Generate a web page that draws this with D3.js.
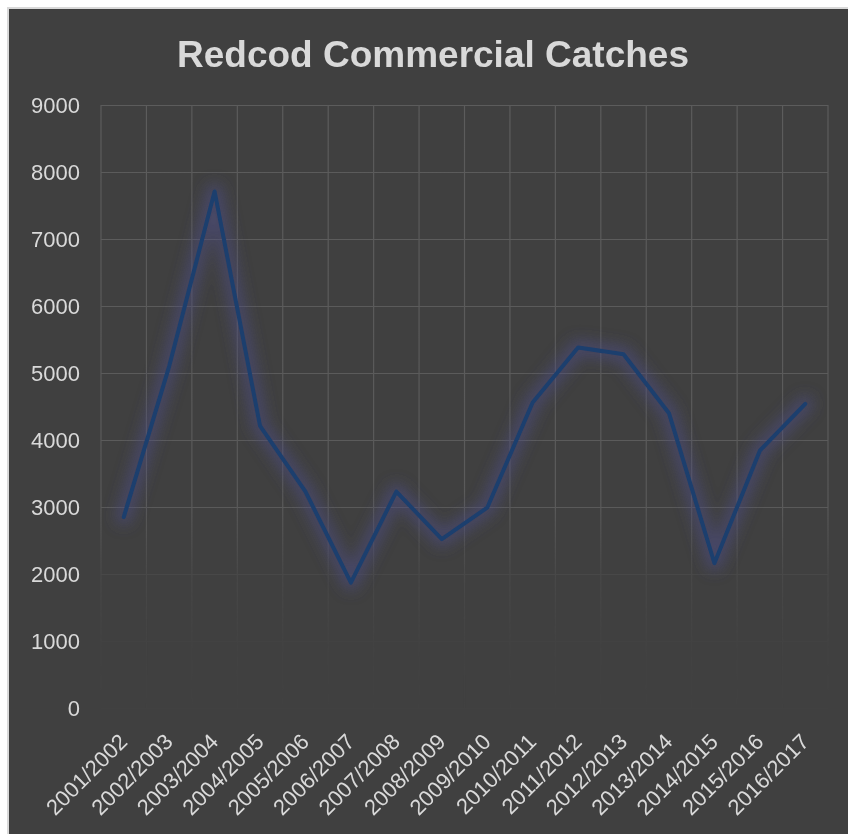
<!DOCTYPE html>
<html><head><meta charset="utf-8">
<script src="https://cdn.jsdelivr.net/npm/d3@7"></script>
<style>html,body{margin:0;padding:0;background:#fff;}svg{display:block;}</style>
</head><body>
<svg id="chart" width="848" height="834"></svg>
<script>
const title = "Redcod Commercial Catches";
const categories = ["2001/2002","2002/2003","2003/2004","2004/2005","2005/2006","2006/2007","2007/2008","2008/2009","2009/2010","2010/2011","2011/2012","2012/2013","2013/2014","2014/2015","2015/2016","2016/2017"];
const catches = [2850,5100,7710,4210,3230,1870,3230,2520,2990,4560,5380,5280,4400,2160,3840,4540];
const yTicks = [0,1000,2000,3000,4000,5000,6000,7000,8000,9000];

const svg = d3.select("#chart");
const W = 848, H = 834;
const plot = {left:101, right:828, top:105, bottom:708};
const font = "'Liberation Sans', Arial, sans-serif";

// outer frame
svg.append("rect").attr("x",0).attr("y",0).attr("width",W).attr("height",H).attr("fill","#ffffff");
svg.append("rect").attr("x",7).attr("y",7).attr("width",W-7).attr("height",H-7).attr("fill","#d9d9d9");
svg.append("rect").attr("x",9).attr("y",9).attr("width",W-9).attr("height",H-9).attr("fill","#404040");

const defs = svg.append("defs");
const grad = defs.append("linearGradient").attr("id","fade").attr("gradientUnits","userSpaceOnUse")
  .attr("x1",0).attr("y1",plot.top).attr("x2",0).attr("y2",plot.bottom);
grad.append("stop").attr("offset","0").attr("stop-color","#fff").attr("stop-opacity",1);
grad.append("stop").attr("offset","0.66").attr("stop-color","#fff").attr("stop-opacity",0.95);
grad.append("stop").attr("offset","0.78").attr("stop-color","#fff").attr("stop-opacity",0.3);
grad.append("stop").attr("offset","0.9").attr("stop-color","#fff").attr("stop-opacity",0.08);
grad.append("stop").attr("offset","1").attr("stop-color","#fff").attr("stop-opacity",0.03);
defs.append("mask").attr("id","gridMask").attr("maskUnits","userSpaceOnUse")
  .attr("x",0).attr("y",0).attr("width",W).attr("height",H)
  .append("rect").attr("x",0).attr("y",0).attr("width",W).attr("height",H).attr("fill","url(#fade)");

const glow = defs.append("filter").attr("id","glow").attr("x","-20%").attr("y","-20%").attr("width","140%").attr("height","140%");
glow.append("feGaussianBlur").attr("stdDeviation",7);

const x = d3.scaleBand().domain(categories).range([plot.left, plot.right]).padding(0);
const y = d3.scaleLinear().domain([0,9000]).range([plot.bottom, plot.top]);

// grid
const grid = svg.append("g").attr("mask","url(#gridMask)");
grid.append("g").attr("transform",`translate(${plot.left},0)`)
  .call(d3.axisLeft(y).tickValues(yTicks).tickSize(-(plot.right-plot.left)).tickFormat(""))
  .call(g=>g.select(".domain").remove())
  .call(g=>g.selectAll("line").attr("stroke","#5c5c5c").attr("stroke-width",1.2));
const vx = categories.map(c=>x(c)).concat([plot.right]);
grid.append("g").selectAll("line").data(vx).join("line")
  .attr("x1",d=>d).attr("x2",d=>d).attr("y1",plot.top).attr("y2",plot.bottom)
  .attr("stroke","#5c5c5c").attr("stroke-width",1.2);

// y labels
svg.append("g").attr("transform",`translate(${plot.left},0)`)
  .call(d3.axisLeft(y).tickValues(yTicks).tickSize(0).tickPadding(21).tickFormat(d3.format("d")))
  .call(g=>g.select(".domain").remove())
  .call(g=>g.selectAll("text").attr("fill","#d9d9d9").attr("font-size",22).attr("font-family",font));

// x labels
const xa = svg.append("g").attr("transform",`translate(0,${plot.bottom})`)
  .call(d3.axisBottom(x).tickSize(0).tickPadding(0))
  .call(g=>g.select(".domain").remove());
xa.selectAll("text")
  .attr("fill","#d9d9d9").attr("font-size",22).attr("font-family",font)
  .attr("text-anchor","end").attr("dy",0).attr("y",0)
  .attr("transform","translate(5,35) rotate(-45)");

// line
const line = d3.line().x((d,i)=>x(categories[i])+x.bandwidth()/2).y(d=>y(d));
svg.append("path").datum(catches).attr("d",line)
  .attr("fill","none").attr("stroke","#4b4b80").attr("stroke-width",16).attr("stroke-opacity",0.6)
  .attr("stroke-linejoin","round").attr("stroke-linecap","round").attr("filter","url(#glow)");
svg.append("path").datum(catches).attr("d",line)
  .attr("fill","none").attr("stroke","#1c3f6e").attr("stroke-width",4)
  .attr("stroke-linejoin","round").attr("stroke-linecap","round");

// title
svg.append("text").attr("x",433).attr("y",67).attr("text-anchor","middle")
  .attr("fill","#d9d9d9").attr("font-size",37).attr("font-weight","bold").attr("font-family",font)
  .text(title);
</script>
</body></html>
